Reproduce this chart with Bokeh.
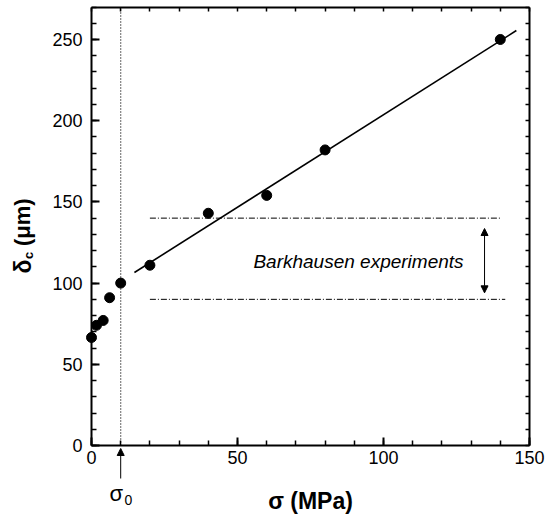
import math
from bokeh.plotting import figure
from bokeh.models import Range1d, LinearAxis, Label, Arrow, NormalHead, FixedTicker
from bokeh.embed import file_html
from bokeh.resources import INLINE

# ---------------- data ----------------
sigma = [0, 1.7, 4, 6.2, 10, 20, 40, 60, 80, 140]          # MPa
delta_c = [66.5, 74, 77, 91, 100, 111, 143, 154, 182, 250]  # um
fit_x = [14.7, 145.5]
fit_y = [106.5, 255.5]
bark_upper = 140
bark_lower = 90
bark_x_upper = [20, 140]
bark_x_lower = [20, 141.7]
bark_arrow_x = 134.6
bark_arrow_y = [133.6, 94.0]
sigma0 = 10
x_ticks = [0, 50, 100, 150]
x_minor = list(range(0, 151, 10))
y_ticks = [0, 50, 100, 150, 200, 250]
y_minor = list(range(0, 271, 10))
X_MAX, Y_MAX = 150, 270

# ---------------- layout (pixels) ----------------
W, H = 547, 518
FL, FB = 91, 445          # pixel position of data origin
KX = 438 / X_MAX          # px per MPa
KY = 438.5 / Y_MAX        # px per um

def dx(px):
    return (px - FL) / KX

def dy(py):
    return (FB - py) / KY

FONT = "Liberation Sans"

p = figure(width=W, height=H,
           x_range=Range1d(dx(0), dx(W)), y_range=Range1d(dy(H), dy(0)),
           output_backend="svg", toolbar_location=None,
           min_border_left=0, min_border_right=0, min_border_top=0, min_border_bottom=0,
           x_axis_type=None, y_axis_type=None)
p.grid.visible = False
p.outline_line_color = None
p.background_fill_color = "white"
p.border_fill_color = "white"

def style(ax):
    ax.axis_line_width = 2
    ax.axis_line_color = "black"
    ax.major_tick_in = 8
    ax.major_tick_out = 0
    ax.minor_tick_in = 5
    ax.minor_tick_out = 0
    ax.major_tick_line_width = 2
    ax.minor_tick_line_width = 1.5
    ax.major_label_text_font = FONT
    ax.major_label_text_font_size = "18px"
    ax.major_label_text_color = "black"

xb = LinearAxis(ticker=FixedTicker(ticks=x_ticks, minor_ticks=x_minor),
                fixed_location=0, bounds=(0, X_MAX))
style(xb)
xb.major_label_standoff = 5
yl = LinearAxis(ticker=FixedTicker(ticks=y_ticks, minor_ticks=y_minor),
                fixed_location=0, bounds=(0, Y_MAX))
style(yl)
yl.major_label_standoff = 9
p.add_layout(xb, "below")
p.add_layout(yl, "left")

# mirror axes (ticks only, no labels)
xt = LinearAxis(ticker=FixedTicker(ticks=[], minor_ticks=x_minor),
                fixed_location=Y_MAX, bounds=(0, X_MAX))
style(xt)
xt.minor_tick_in = 4
yr = LinearAxis(ticker=FixedTicker(ticks=[], minor_ticks=y_minor),
                fixed_location=X_MAX, bounds=(0, Y_MAX))
style(yr)
yr.minor_tick_in = 4
p.add_layout(xt, "above")
p.add_layout(yr, "right")

# sigma0 dotted line
p.line([sigma0, sigma0], [0, Y_MAX], line_color="black", line_width=1.2, line_dash="1 2")

# Barkhausen lines
p.line(bark_x_upper, [bark_upper, bark_upper], line_color="black", line_width=1, line_dash="6 2 1 2")
p.line(bark_x_lower, [bark_lower, bark_lower], line_color="black", line_width=1, line_dash="6 2 1 2")

# fit
p.line(fit_x, fit_y, line_color="black", line_width=1.6)

# points
p.scatter(sigma, delta_c, size=10, color="black")

# double arrow
p.add_layout(Arrow(x_start=bark_arrow_x, y_start=bark_arrow_y[0],
                   x_end=bark_arrow_x, y_end=bark_arrow_y[1],
                   start=NormalHead(size=7, fill_color="black", line_color="black"),
                   end=NormalHead(size=7, fill_color="black", line_color="black"),
                   line_width=1, line_color="black"))

def lab(px, py, text, size, style_="normal", angle=0.0, align="left"):
    p.add_layout(Label(x=dx(px), y=dy(py), text=text,
                       text_font=FONT, text_font_style=style_, text_font_size=size,
                       text_align=align, text_baseline="alphabetic", angle=angle,
                       text_color="black"))

lab(358, 261, "Barkhausen experiments", "19px", style_="italic", align="center")

# sigma0 arrow below axis
p.add_layout(Arrow(x_start=sigma0, y_start=dy(478), x_end=sigma0, y_end=dy(448),
                   end=NormalHead(size=7, fill_color="black", line_color="black"),
                   line_width=1, line_color="black"))
lab(109, 493, "σ", "22px")
lab(124, 499, "0", "14px")

# x axis label
lab(310, 500, "σ (MPa)", "23px", style_="bold", align="center")

# y axis label pieces (rotated)
lab(22, 273, "δ", "23px", style_="bold", angle=math.pi / 2)
lab(27.5, 258.5, "c", "13px", style_="bold", angle=math.pi / 2)
lab(22, 245.5, "(μm)", "22px", style_="bold", angle=math.pi / 2)

open("out.html", "w").write(file_html(p, INLINE))
